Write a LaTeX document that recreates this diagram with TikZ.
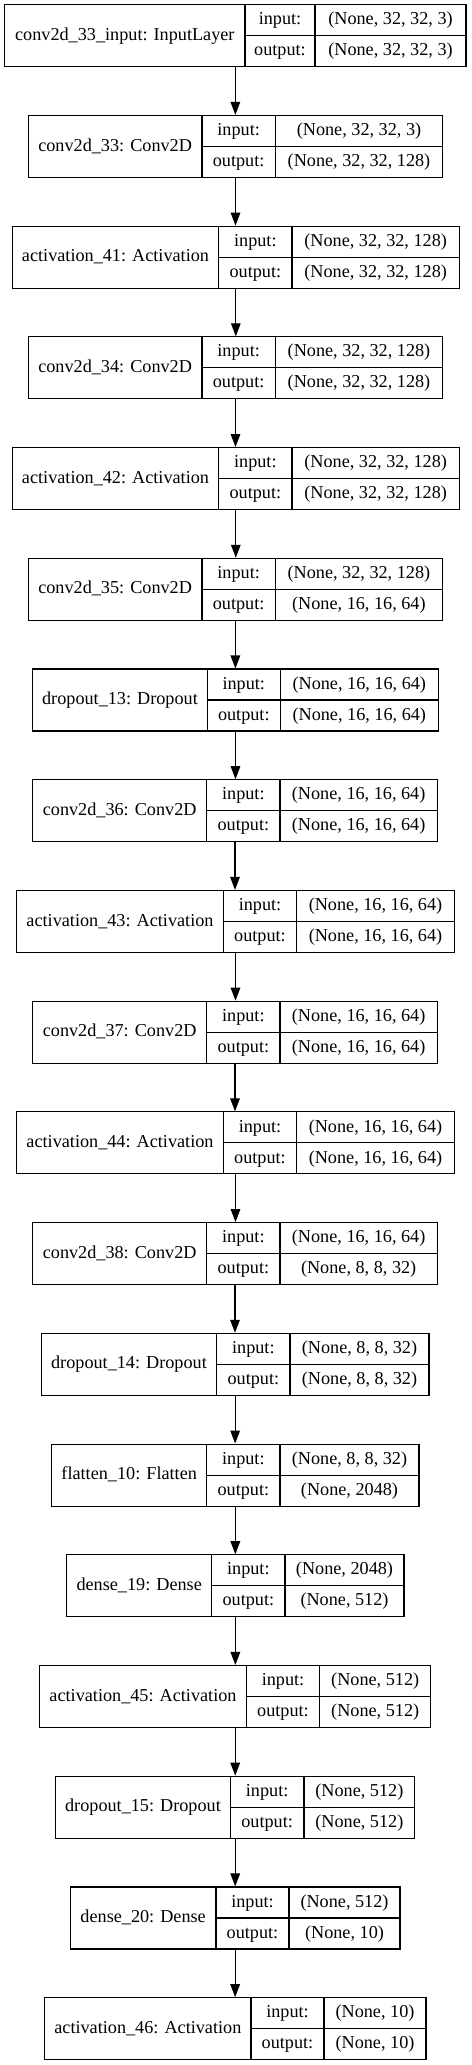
\documentclass[tikz,border=0pt]{standalone}
\usepackage{fontspec}
\setmainfont{Liberation Serif}
\usetikzlibrary{arrows.meta}
\tikzset{
  boxout/.style={draw=black, line width=0.55pt, inner sep=0pt, fill=none},
  divline/.style={draw=black, line width=0.55pt},
  lbl/.style={inner sep=0pt, text height=0.68em, text depth=0.22em, anchor=center, font=\fontsize{9.1}{11}\selectfont},
  arr/.style={draw=black, line width=0.55pt, -{Triangle[length=6.5pt,width=4.8pt]}}
}
\newcommand\keraslayer[8]{%
  \pgfmathsetmacro\lyTop{4.7+(#1-1)*110.72}%
  \pgfmathsetmacro\lyBot{\lyTop+62}%
  \pgfmathsetmacro\lyMid{\lyTop+31}%
  \pgfmathsetmacro\lyW{(#5-#2)*0.5}%
  \node[boxout, minimum width=\lyW pt, minimum height=31pt] (b#1) at ({(#2+#5)/2},\lyMid) {};
  \draw[divline] (#3,\lyTop) -- (#3,\lyBot);
  \draw[divline] (#4,\lyTop) -- (#4,\lyBot);
  \draw[divline] (#3,\lyMid) -- (#5,\lyMid);
  \node[lbl] (l#1) at ({(#2+#3)/2},\lyMid) {#6};
  \node[lbl] (ik#1) at ({(#3+#4)/2},{\lyTop+15.5}) {input:};
  \node[lbl] (ok#1) at ({(#3+#4)/2},{\lyMid+15.5}) {output:};
  \node[lbl] (iv#1) at ({(#4+#5)/2},{\lyTop+15.5}) {#7};
  \node[lbl] (ov#1) at ({(#4+#5)/2},{\lyMid+15.5}) {#8};
}
\begin{document}
\begin{tikzpicture}[x=0.5pt,y=-0.5pt]
\useasboundingbox (0,0) rectangle (471,2065);
\keraslayer{1}{4.7}{245}{315}{466}{conv2d\_33\_input: InputLayer}{(None, 32, 32, 3)}{(None, 32, 32, 3)}
\keraslayer{2}{28.3}{202}{275.3}{442.7}{conv2d\_33: Conv2D}{(None, 32, 32, 3)}{(None, 32, 32, 128)}
\keraslayer{3}{12.3}{218.7}{292}{459.3}{activation\_41: Activation}{(None, 32, 32, 128)}{(None, 32, 32, 128)}
\keraslayer{4}{28.3}{202}{275.3}{442.7}{conv2d\_34: Conv2D}{(None, 32, 32, 128)}{(None, 32, 32, 128)}
\keraslayer{5}{12.3}{218.7}{292}{459.3}{activation\_42: Activation}{(None, 32, 32, 128)}{(None, 32, 32, 128)}
\keraslayer{6}{28.3}{202}{275.3}{442.5}{conv2d\_35: Conv2D}{(None, 32, 32, 128)}{(None, 16, 16, 64)}
\keraslayer{7}{32.7}{207.3}{280.3}{438.3}{dropout\_13: Dropout}{(None, 16, 16, 64)}{(None, 16, 16, 64)}
\keraslayer{8}{32.7}{206.7}{280}{437.3}{conv2d\_36: Conv2D}{(None, 16, 16, 64)}{(None, 16, 16, 64)}
\keraslayer{9}{16.7}{223.3}{296.7}{454.3}{activation\_43: Activation}{(None, 16, 16, 64)}{(None, 16, 16, 64)}
\keraslayer{10}{32.7}{206.7}{280}{437.3}{conv2d\_37: Conv2D}{(None, 16, 16, 64)}{(None, 16, 16, 64)}
\keraslayer{11}{16.7}{223.3}{296.7}{454.3}{activation\_44: Activation}{(None, 16, 16, 64)}{(None, 16, 16, 64)}
\keraslayer{12}{32.7}{206.7}{280}{437.3}{conv2d\_38: Conv2D}{(None, 16, 16, 64)}{(None, 8, 8, 32)}
\keraslayer{13}{41.3}{216.7}{290}{429}{dropout\_14: Dropout}{(None, 8, 8, 32)}{(None, 8, 8, 32)}
\keraslayer{14}{51.7}{206.7}{280}{419}{flatten\_10: Flatten}{(None, 8, 8, 32)}{(None, 2048)}
\keraslayer{15}{66.7}{211.7}{285}{404}{dense\_19: Dense}{(None, 2048)}{(None, 512)}
\keraslayer{16}{39.7}{246.3}{319.7}{430.7}{activation\_45: Activation}{(None, 512)}{(None, 512)}
\keraslayer{17}{55.7}{230.3}{304}{414.7}{dropout\_15: Dropout}{(None, 512)}{(None, 512)}
\keraslayer{18}{70.3}{216}{289}{400}{dense\_20: Dense}{(None, 512)}{(None, 10)}
\keraslayer{19}{44.7}{251}{324}{426}{activation\_46: Activation}{(None, 10)}{(None, 10)}
\foreach \a [evaluate=\a as \b using int(\a+1)] in {1,...,18}{
  \draw[arr] (b\a.south) -- (b\a.south |- b\b.north);
}
\end{tikzpicture}
\end{document}
